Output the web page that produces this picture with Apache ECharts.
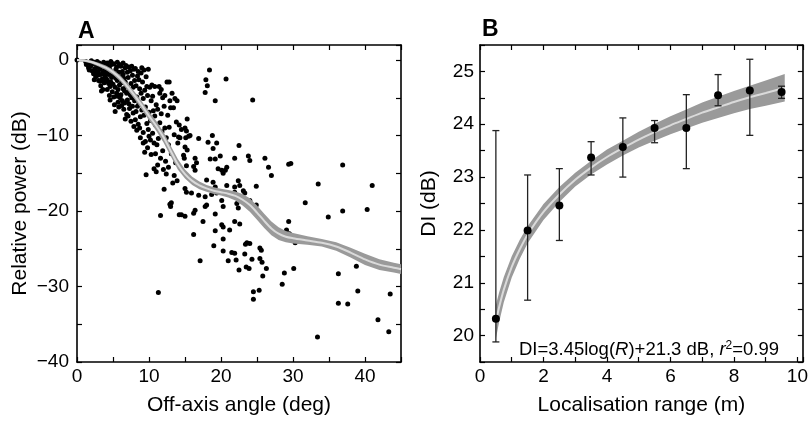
<!DOCTYPE html>
<html>
<head>
<meta charset="utf-8">
<script src="https://cdn.jsdelivr.net/npm/echarts@6/dist/echarts.min.js"></script>
<style>
html,body{margin:0;padding:0;background:#fff;}
#chart{width:811px;height:421px;}
</style>
</head>
<body>
<div id="chart"></div>
<script>
// A: off-axis angle (deg), relative power (dB)
const scatterA = [
  [0,0],
  [1.2,-0.2],[1.5,-0.4],[1.8,-0.3],[1.9,-0.8],[1.6,-1.0],[2.0,-0.1],[1.3,-0.6],[1.7,-1.3],
  [2.2,-0.5],[2.4,-0.3],[2.5,-1.1],[2.7,-0.6],[2.9,-1.5],[2.3,-1.8],[2.6,-2.2],[2.8,-0.2],[3.0,-0.9],[2.1,-1.4],[2.4,-2.6],[2.9,-2.0],[2.6,-1.6],[3.0,-2.7],
  [3.1,-0.4],[3.2,-1.2],[3.3,-1.9],[3.4,-0.8],[3.5,-2.5],[3.6,-1.5],[3.7,-0.3],[3.8,-3.0],[3.9,-2.1],[3.3,-3.4],[3.5,-0.6],[3.6,-3.9],[3.9,-1.1],[3.2,-2.8],[3.8,-1.8],[3.4,-4.1],[4.0,-0.7],[3.7,-2.6],
  [4.1,-1.5],[4.2,-0.4],[4.3,-2.8],[4.4,-1.9],[4.5,-0.9],[4.6,-3.5],[4.7,-0.2],[4.8,-2.3],[4.9,-4.2],[4.2,-3.9],[4.4,-3.1],[4.6,-1.3],[4.8,-0.6],[4.9,-1.8],[4.1,-2.5],[4.5,-4.7],[4.7,-2.9],[4.3,-1.1],[5.0,-3.2],[4.6,-5.3],
  [5.1,-0.5],[5.2,-2.0],[5.3,-6.8],[5.3,-3.6],[5.4,-1.2],[5.5,-4.4],[5.6,-0.3],[5.6,-2.7],[5.7,-5.6],[5.8,-1.6],[5.9,-3.3],[5.1,-4.9],[5.2,-5.9],[5.4,-2.4],[5.5,-0.9],[5.7,-3.9],[5.8,-6.2],[5.9,-0.6],[6.0,-2.2],[5.3,-1.8],[5.6,-4.8],[6.0,-5.0],
  [6.1,-0.8],[6.2,-3.0],[6.3,-1.5],[6.3,-5.4],[6.4,-0.4],[6.5,-2.4],[6.5,-6.5],[6.6,-4.1],[6.7,-1.0],[6.8,-3.5],[6.9,-7.2],[6.1,-4.6],[6.2,-6.0],[6.4,-1.9],[6.6,-5.7],[6.7,-2.9],[6.8,-0.7],[6.9,-4.4],[7.0,-1.6],[6.4,-3.8],[6.7,-7.8],[7.0,-5.3],
  [7.1,-2.3],[7.2,-0.9],[7.3,-4.0],[7.3,-6.4],[7.4,-1.4],[7.5,-3.1],[7.5,-8.1],[7.6,-5.0],[7.7,-2.0],[7.8,-7.0],[7.9,-1.2],[7.2,-5.8],[7.4,-4.6],[7.6,-0.8],[7.7,-6.1],[7.8,-3.6],[7.9,-8.8],[8.0,-2.7],[7.1,-7.4],[8.0,-5.4],
  [8.1,-1.1],[8.2,-3.4],[8.2,-6.8],[8.3,-4.9],[8.4,-2.1],[8.5,-8.5],[8.5,-1.5],[8.6,-5.8],[8.7,-3.8],[8.8,-10.3],[8.8,-7.5],[8.9,-1.7],[8.3,-9.3],[8.4,-6.1],[8.6,-2.6],[8.7,-9.0],[8.9,-4.4],[9.0,-6.6],[8.1,-7.9],[9.0,-1.0],
  [9.1,-2.9],[9.2,-5.1],[9.2,-9.6],[9.3,-1.3],[9.3,-7.3],[9.4,-4.0],[9.5,-10.8],[9.5,-6.2],[9.6,-15.2],[9.6,-2.2],[9.7,-8.4],[9.8,-11.6],[9.8,-4.7],[9.9,-1.2],[9.9,-9.2],[10.0,-6.9],[9.4,-12.2],[9.7,-3.5],[10.0,-10.1],[9.2,-11.0],
  [10.1,-3.6],[10.2,-8.0],[10.3,-5.4],[10.3,-12.5],[10.4,-3.3],[10.5,-9.7],[10.6,-6.7],[10.7,-14.4],[10.7,-11.0],[10.8,-3.5],[10.9,-12.4],[10.9,-8.6],[11.0,-14.8],[10.2,-10.6],[10.5,-4.8],[10.8,-7.4],[11.0,-5.9],
  [11.1,-11.2],[11.2,-6.5],[11.3,-10.4],[11.3,-30.8],[11.4,-3.5],[11.5,-8.3],[11.6,-13.0],[11.6,-20.6],[11.7,-3.9],[11.8,-9.5],[11.9,-5.0],[11.9,-12.0],[11.2,-13.9],[11.5,-4.4],[11.7,-7.1],[12.0,-14.5],
  [12.1,-6.1],[12.1,-17.1],[12.2,-9.0],[12.3,-13.4],[12.4,-15.1],[12.5,-2.9],[12.6,-7.3],[12.7,-11.2],[12.8,-2.9],[12.9,-19.1],[12.9,-5.4],[13.0,-6.3],[13.0,-19.4],[12.4,-10.3],[12.7,-14.2],[12.2,-4.7],[12.8,-8.9],
  [13.1,-12.4],[13.2,-4.4],[13.3,-16.3],[13.4,-6.3],[13.5,-9.9],[13.6,-5.1],[13.7,-13.6],[13.8,-8.2],[13.9,-16.0],[14.0,-11.0],[13.5,-15.3],[13.9,-5.4],[14.1,-10.2],[14.2,-8.6],[14.2,-20.5],[13.1,-18.9],
  [18.4,-1.3],[17.9,-2.6],[18.1,-3.4],[17.8,-4.3],[20.7,-2.5],[19.2,-5.4],[24.4,-5.3],[15.3,-7.8],[15.0,-9.0],[14.5,-9.2],[15.2,-9.4],[15.5,-10.1],
  [15.7,-10.0],[14.3,-10.3],[15.1,-10.3],[16.9,-10.4],[15.0,-11.5],[15.3,-11.9],[14.8,-12.6],[18.8,-10.0],[18.2,-10.9],[19.4,-11.0],[22.5,-11.3],[18.9,-11.7],
  [14.9,-13.0],[16.4,-13.0],[16.6,-13.6],[18.5,-13.1],[19.2,-13.1],[19.9,-12.7],[21.9,-13.0],[23.8,-12.7],[24.0,-13.3],[26.1,-13.0],[26.6,-14.2],[27.0,-15.3],[29.4,-13.8],
  [15.2,-14.0],[16.2,-14.1],[16.4,-14.6],[19.6,-14.4],[20.1,-14.6],[20.3,-15.0],[20.6,-14.6],[20.8,-14.2],
  [18.0,-15.9],[18.9,-16.2],[19.2,-16.8],[20.8,-16.6],[22.4,-16.0],[22.6,-16.6],[21.9,-16.8],[23.1,-17.3],[23.3,-17.6],[24.9,-16.7],
  [15.0,-17.0],[15.2,-17.5],[15.9,-17.6],[16.9,-17.9],[17.8,-18.1],[18.7,-17.8],[19.4,-17.6],[20.1,-18.6],[21.9,-17.5],[22.4,-18.1],[24.0,-18.6],[24.9,-19.2],
  [14.5,-20.5],[15.0,-20.7],[16.2,-20.3],[16.4,-19.9],[18.0,-19.2],[17.8,-19.4],[19.2,-20.4],[20.3,-19.4],[22.2,-19.0],[22.4,-19.6],
  [17.5,-21.4],[19.2,-22.6],[20.1,-21.8],[20.3,-22.1],[21.2,-22.5],[21.9,-21.4],[22.6,-21.7],[29.4,-21.4],[29.1,-22.5],
  [16.2,-23.1],[20.3,-23.7],[23.6,-24.2],[24.0,-24.3],[23.4,-24.4],[19.0,-24.6],[25.4,-24.9],[25.6,-25.2],[20.3,-25.3],[21.5,-25.5],[21.9,-25.6],
  [23.3,-25.7],[24.3,-26.4],[25.4,-26.3],[17.1,-26.6],[21.0,-26.6],
  [22.1,-26.5],[22.5,-27.8],[23.5,-27.4],[23.9,-27.6],[25.7,-26.8],[26.3,-27.6],[25.8,-28.6],[24.5,-30.7],[25.3,-30.5],[24.5,-31.7],[28.8,-28.2],[28.5,-29.7],
  [29.7,-13.7],[36.9,-13.9],[33.5,-16.4],[41.0,-16.6],
  [31.7,-18.9],[34.9,-20.8],[36.9,-20.0],[40.3,-19.8],[29.5,-23.0],[30.3,-24.2],[30.7,-23.6],[30.1,-27.6],[36.3,-28.3],[38.8,-27.3],
  [39.0,-30.6],[36.3,-32.2],[37.6,-32.3],[43.5,-31.0],[41.8,-34.4],[43.3,-36.0],[33.4,-36.7]
];

// A: fitted beam pattern (centre and half-width of the grey band)
const fitAngle = [0,1,2,3,4,5,6,7,8,9,10,11,12,13,14,15,16,17,18,19,20,21,22,23,24,25,26,27,28,29,30,32,34,36,38,40,42,44,45];
const fitPower = [0,-0.05,-0.25,-0.6,-1.0,-1.6,-2.4,-3.5,-4.7,-6.0,-7.4,-8.7,-10.2,-12.0,-13.8,-15.1,-16.0,-16.6,-17.0,-17.3,-17.5,-17.7,-18.0,-18.5,-19.2,-20.2,-21.3,-22.3,-23.0,-23.4,-23.6,-23.9,-24.2,-24.7,-25.5,-26.4,-27.1,-27.5,-27.7];
const fitPowerHalf = [0.15,0.18,0.2,0.25,0.3,0.35,0.4,0.45,0.5,0.55,0.6,0.65,0.7,0.7,0.7,0.6,0.55,0.5,0.45,0.45,0.45,0.5,0.6,0.75,0.9,0.95,0.95,0.9,0.85,0.75,0.7,0.55,0.5,0.55,0.65,0.75,0.7,0.65,0.65];

// B: localisation range (m), DI (dB) with error bars
const rangeM = [0.5,1.5,2.5,3.5,4.5,5.5,6.5,7.5,8.5,9.5];
const diMean = [20.32,21.99,22.46,23.37,23.57,23.93,23.93,24.55,24.64,24.61];
const diLow  = [19.88,20.67,21.80,23.04,23.00,23.65,23.16,24.35,23.79,24.49];
const diHigh = [23.88,23.04,23.16,23.67,24.12,24.07,24.56,24.94,25.23,24.72];

// B: fitted curve and band
const fitRange = [0.5,0.6,0.75,1,1.25,1.5,2,2.5,3,3.5,4,4.5,5,5.5,6,6.5,7,7.5,8,8.5,9,9.6];
const fitDI = [20.26,20.53,20.87,21.3,21.63,21.91,22.34,22.67,22.95,23.18,23.38,23.55,23.71,23.85,23.98,24.10,24.22,24.32,24.42,24.51,24.59,24.69];
const fitDIHalf = [0.32,0.28,0.24,0.2,0.18,0.16,0.15,0.14,0.13,0.13,0.14,0.14,0.15,0.16,0.17,0.18,0.19,0.2,0.21,0.22,0.24,0.26];

const FONT = "'Liberation Sans', Arial, Helvetica, sans-serif";
const chart = echarts.init(document.getElementById('chart'));

// grey confidence band (polygon through the axis scales) + light centre line
function bandSeries(xs, ys, half, axis) {
  return [
    {type: 'custom', xAxisIndex: axis, yAxisIndex: axis, z: 3, silent: true, clip: true,
      data: [[xs[0], ys[0]]],
      renderItem: function (params, api) {
        const up = xs.map((x, i) => api.coord([x, ys[i] + half[i]]));
        const lo = xs.map((x, i) => api.coord([x, ys[i] - half[i]])).reverse();
        return {type: 'polygon', shape: {points: up.concat(lo)}, style: {fill: '#9a9a9a'}};
      }},
    {type: 'line', xAxisIndex: axis, yAxisIndex: axis, data: xs.map((x, i) => [x, ys[i]]),
      symbol: 'none', smooth: 0.3, silent: true, lineStyle: {color: '#dadada', width: 2}, z: 4}
  ];
}

function xAx(grid, min, max, step, every, name, top) {
  return {
    type: 'value', gridIndex: grid, min: min, max: max, interval: step,
    position: top ? 'top' : 'bottom',
    name: top ? '' : name, nameLocation: 'middle', nameGap: 33,
    nameTextStyle: {fontFamily: FONT, fontSize: 21, color: '#000'},
    axisLine: {onZero: false, lineStyle: {color: '#000', width: 1.6}},
    axisTick: {inside: true, length: 5, lineStyle: {color: '#000', width: 1.2}},
    axisLabel: {show: !top, margin: 5, fontFamily: FONT, fontSize: 19, color: '#000',
      showMaxLabel: true, showMinLabel: true,
      formatter: v => (Math.abs(v / every - Math.round(v / every)) < 1e-6 ? String(Math.round(v)) : '')},
    splitLine: {show: false}
  };
}

function yAx(grid, min, max, step, every, name, gap, right) {
  return {
    type: 'value', gridIndex: grid, min: min, max: max, interval: step,
    position: right ? 'right' : 'left',
    name: right ? '' : name, nameLocation: 'middle', nameGap: gap,
    nameTextStyle: {fontFamily: FONT, fontSize: 21, color: '#000'},
    axisLine: {onZero: false, lineStyle: {color: '#000', width: 1.6}},
    axisTick: {inside: true, length: 5, lineStyle: {color: '#000', width: 1.2}},
    axisLabel: {show: !right, margin: grid === 0 ? 8 : 6, fontFamily: FONT, fontSize: 19, color: '#000',
      formatter: v => {
        if (Math.abs(v / every - Math.round(v / every)) > 1e-6) return '';
        const r = Math.round(v);
        return r < 0 ? '\u2212' + (-r) : String(r);
      }},
    splitLine: {show: false}
  };
}

const option = {
  backgroundColor: '#fff',
  animation: false,
  grid: [
    {left: 77, top: 45, width: 324, height: 321},
    {left: 480, top: 45, width: 330, height: 321}
  ],
  xAxis: [
    xAx(0, 0, 45, 5, 10, 'Off-axis angle (deg)', false),
    xAx(0, 0, 45, 5, 10, '', true),
    xAx(1, 0, 10.17, 1, 2, 'Localisation range (m)', false),
    xAx(1, 0, 10.17, 1, 2, '', true)
  ],
  yAxis: [
    yAx(0, -40, 2, 5, 10, 'Relative power (dB)', 46, false),
    yAx(0, -40, 2, 5, 10, '', 0, true),
    yAx(1, 19.5, 25.5, 0.5, 1, 'DI (dB)', 40, false),
    yAx(1, 19.5, 25.5, 0.5, 1, '', 0, true)
  ],
  graphic: [
    {type: 'text', left: 78, top: 20, style: {text: 'A', font: 'bold 23px ' + FONT, fill: '#000'}},
    {type: 'text', left: 482, top: 18, style: {text: 'B', font: 'bold 23px ' + FONT, fill: '#000'}},
    {type: 'text', x: 649, y: 350, style: {
      text: 'DI=3.45log({i|R})+21.3 dB, {i|r}{sup|2}=0.99',
      align: 'center', verticalAlign: 'middle',
      fontFamily: FONT, fontSize: 18.5, fill: '#000',
      rich: {
        i: {fontFamily: FONT, fontSize: 18.5, fontStyle: 'italic'},
        sup: {fontFamily: FONT, fontSize: 12, verticalAlign: 'top', lineHeight: 21}
      }
    }}
  ],
  series: [
    {type: 'scatter', xAxisIndex: 0, yAxisIndex: 0, data: scatterA, symbolSize: 5,
      itemStyle: {color: '#000', opacity: 1}, z: 2, silent: true},
    ...bandSeries(fitAngle, fitPower, fitPowerHalf, 0),
    ...bandSeries(fitRange, fitDI, fitDIHalf, 2),
    {type: 'custom', xAxisIndex: 2, yAxisIndex: 2, z: 5, silent: true,
      data: rangeM.map((r, i) => [r, diLow[i], diHigh[i]]),
      encode: {x: 0, y: [1, 2]},
      renderItem: function (params, api) {
        const lo = api.coord([api.value(0), api.value(1)]);
        const hi = api.coord([api.value(0), api.value(2)]);
        const cw = 3.5;
        const st = {stroke: '#222', lineWidth: 1.3};
        return {type: 'group', children: [
          {type: 'line', shape: {x1: lo[0], y1: lo[1], x2: hi[0], y2: hi[1]}, style: st},
          {type: 'line', shape: {x1: lo[0] - cw, y1: lo[1], x2: lo[0] + cw, y2: lo[1]}, style: st},
          {type: 'line', shape: {x1: hi[0] - cw, y1: hi[1], x2: hi[0] + cw, y2: hi[1]}, style: st}
        ]};
      }},
    {type: 'scatter', xAxisIndex: 2, yAxisIndex: 2, data: rangeM.map((r, i) => [r, diMean[i]]),
      symbolSize: 8, itemStyle: {color: '#000', opacity: 1}, z: 6, silent: true}
  ]
};
chart.setOption(option);
</script>
</body>
</html>
